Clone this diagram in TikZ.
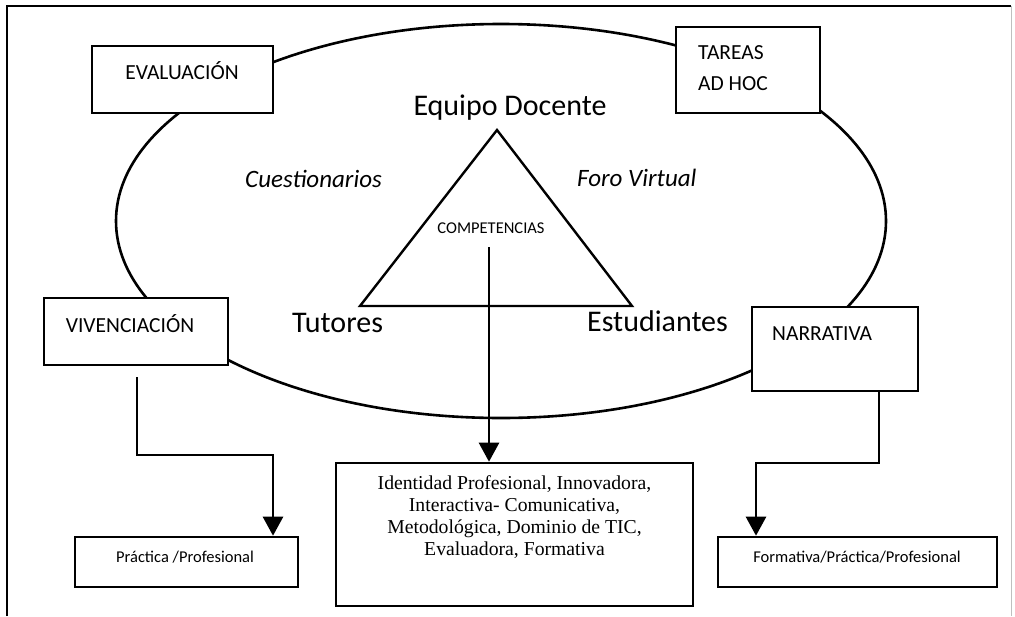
\documentclass[tikz,border=0pt]{standalone}
\usepackage{fontspec}
\setmainfont{Carlito}
\newfontfamily\tnr{Liberation Serif}
\usetikzlibrary{arrows.meta,shapes.geometric}
\begin{document}
\begin{tikzpicture}[x=1pt,y=-1pt,
  box/.style={draw, line width=2.6pt, fill=white, inner sep=0pt},
  lbl/.style={font=\fontsize{21.5}{31}\selectfont, inner sep=0pt},
  big/.style={font=\fontsize{30}{36}\selectfont, inner sep=0pt},
  ital/.style={font=\fontsize{25}{30}\selectfont\itshape, inner sep=0pt},
  small/.style={font=\fontsize{16.5}{20}\selectfont, inner sep=0pt},
  serif/.style={font=\tnr\fontsize{19.7}{21.9}\selectfont, inner sep=0pt, align=center},
  conn/.style={line width=2.6pt, -{Triangle[width=20pt,length=19pt]}},
  triline/.style={line width=2.4pt},
]
\useasboundingbox (0,0) rectangle (1015,616);
% outer frame
\draw[line width=2.2pt] (7,616) -- (7,6) -- (1011,6);
\draw[line width=1pt, black!25] (1011,6) -- (1011,616);
% ellipse
\node[draw, ellipse, line width=2.6pt, minimum width=770pt, minimum height=394pt, inner sep=0pt] (ring) at (501,221) {};
% triangle
\coordinate (apex) at (497,130);
\coordinate (bl) at (360,306);
\coordinate (br) at (632,306);
\draw[triline, line join=miter] (apex) -- (bl) -- (br) -- cycle;
% boxes
\node[box, minimum width=181pt, minimum height=67pt] (eval) at (182.5,79.5) {};
\node[box, minimum width=144pt, minimum height=86pt] (tareas) at (748,70) {};
\node[box, minimum width=184pt, minimum height=67pt] (viv) at (136,331.5) {};
\node[box, minimum width=166pt, minimum height=84pt] (narr) at (835,349) {};
\node[box, minimum width=223pt, minimum height=50pt] (prac) at (186.5,562) {};
\node[box, minimum width=279pt, minimum height=50pt] (form) at (857.5,562) {};
\node[box, minimum width=357pt, minimum height=143pt] (comp) at (514.5,534.5) {};
% texts
\node[lbl, anchor=base] (evalt) at (182,79) {EVALUACIÓN};
\node[lbl, anchor=base west] (tareast1) at (698,59) {TAREAS};
\node[lbl, anchor=base west] (tareast2) at (698,90) {AD HOC};
\node[lbl, anchor=base] (vivt) at (130,332) {VIVENCIACIÓN};
\node[lbl, anchor=base west] (narrt) at (772,340) {NARRATIVA};
\node[big, anchor=base] (equipo) at (510,115) {Equipo Docente};
\node[big, anchor=base west] (tutores) at (292,332) {Tutores};
\node[big, anchor=base west] (estud) at (587,331) {Estudiantes};
\node[ital, anchor=base west] (cuest) at (245,187) {Cuestionarios};
\node[ital, anchor=base west] (foro) at (577,186) {Foro Virtual};
\node[small, anchor=base] (compt) at (491,233) {COMPETENCIAS};
\node[small, anchor=base] (pract) at (185,562) {Práctica /Profesional};
\node[small, anchor=base] (formt) at (857,562) {Formativa/Práctica/Profesional};
\node[serif, anchor=north] (compl) at (514.5,475.5) {Identidad Profesional, Innovadora,\\Interactiva- Comunicativa,\\Metodológica, Dominio de TIC,\\Evaluadora, Formativa};
% connectors
\coordinate (c0) at (489,247);
\coordinate (v0) at (137,377);
\coordinate (vb) at (273,455);
\coordinate (n0) at (879,391);
\coordinate (nb) at (879,463);
\coordinate (nx) at (756,463);
\draw[conn] (c0) -- (c0 |- comp.north);
\draw[conn] (v0) |- (vb) -- (vb |- prac.north);
\draw[conn] (n0) -- (nb) -- (nx) -- (nx |- form.north);
\end{tikzpicture}
\end{document}
